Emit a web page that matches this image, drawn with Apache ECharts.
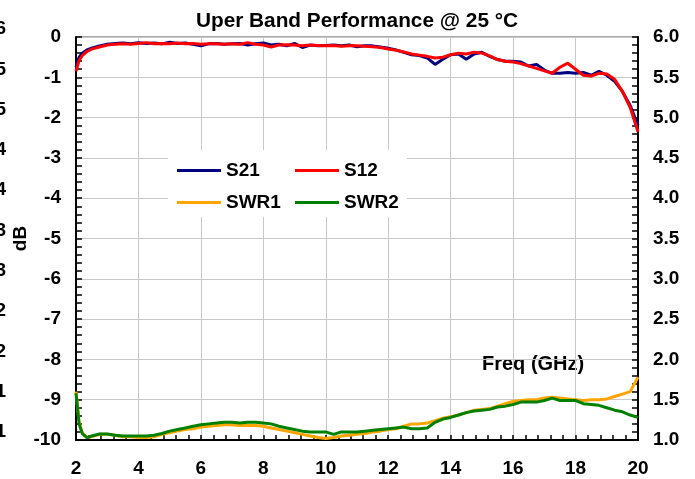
<!DOCTYPE html>
<html>
<head>
<meta charset="utf-8">
<script src="https://cdn.jsdelivr.net/npm/echarts@6/dist/echarts.min.js"></script>
<style>
html,body{margin:0;padding:0;background:#fff;}
#chart{width:695px;height:479px;}
</style>
</head>
<body>
<div id="chart"></div>
<script>
const freq = [2, 2.1, 2.2, 2.35, 2.5, 2.75, 3, 3.25, 3.5, 3.75, 4, 4.25, 4.5, 4.75, 5, 5.25, 5.5, 5.75, 6, 6.25, 6.5, 6.75, 7, 7.25, 7.5, 7.75, 8, 8.25, 8.5, 8.75, 9, 9.25, 9.5, 9.75, 10, 10.25, 10.5, 10.75, 11, 11.25, 11.5, 11.75, 12, 12.25, 12.5, 12.75, 13, 13.25, 13.5, 13.75, 14, 14.25, 14.5, 14.75, 15, 15.25, 15.5, 15.75, 16, 16.25, 16.5, 16.75, 17, 17.25, 17.5, 17.75, 18, 18.25, 18.5, 18.75, 19, 19.25, 19.5, 19.75, 20];

const s21 = [-0.75, -0.5, -0.4, -0.32, -0.28, -0.22, -0.18, -0.16, -0.15, -0.17, -0.14, -0.16, -0.15, -0.17, -0.13, -0.16, -0.15, -0.18, -0.22, -0.17, -0.16, -0.18, -0.17, -0.16, -0.2, -0.17, -0.15, -0.2, -0.18, -0.22, -0.16, -0.26, -0.2, -0.22, -0.21, -0.2, -0.22, -0.2, -0.24, -0.22, -0.22, -0.25, -0.28, -0.32, -0.38, -0.44, -0.46, -0.52, -0.68, -0.55, -0.44, -0.42, -0.55, -0.42, -0.38, -0.48, -0.56, -0.6, -0.6, -0.62, -0.72, -0.68, -0.82, -0.9, -0.9, -0.88, -0.9, -0.88, -0.95, -0.85, -0.95, -1.1, -1.35, -1.7, -2.2];

const s12 = [-0.85, -0.58, -0.46, -0.36, -0.3, -0.25, -0.2, -0.18, -0.17, -0.18, -0.16, -0.14, -0.17, -0.16, -0.17, -0.15, -0.17, -0.16, -0.18, -0.17, -0.17, -0.18, -0.17, -0.18, -0.14, -0.18, -0.2, -0.25, -0.2, -0.19, -0.2, -0.22, -0.2, -0.21, -0.22, -0.21, -0.23, -0.22, -0.22, -0.23, -0.24, -0.26, -0.3, -0.33, -0.37, -0.42, -0.45, -0.48, -0.52, -0.5, -0.44, -0.4, -0.42, -0.38, -0.4, -0.47, -0.56, -0.6, -0.62, -0.66, -0.72, -0.78, -0.84, -0.9, -0.75, -0.65, -0.8, -0.95, -0.97, -0.9, -0.92, -1.05, -1.35, -1.75, -2.35];

const swr1 = [1.6, 1.22, 1.09, 1.03, 1.04, 1.07, 1.07, 1.06, 1.04, 1.04, 1.03, 1.03, 1.04, 1.07, 1.09, 1.11, 1.13, 1.14, 1.16, 1.17, 1.18, 1.19, 1.19, 1.18, 1.18, 1.18, 1.17, 1.15, 1.13, 1.11, 1.09, 1.07, 1.05, 1.03, 1.02, 1.03, 1.05, 1.06, 1.07, 1.08, 1.1, 1.11, 1.13, 1.14, 1.17, 1.2, 1.2, 1.21, 1.24, 1.27, 1.29, 1.31, 1.34, 1.37, 1.38, 1.39, 1.42, 1.45, 1.48, 1.49, 1.5, 1.5, 1.52, 1.53, 1.52, 1.51, 1.5, 1.49, 1.5, 1.5, 1.51, 1.54, 1.57, 1.6, 1.78];

const swr2 = [1.58, 1.2, 1.08, 1.03, 1.05, 1.075, 1.075, 1.06, 1.05, 1.05, 1.05, 1.05, 1.06, 1.08, 1.11, 1.13, 1.15, 1.17, 1.19, 1.2, 1.21, 1.22, 1.22, 1.21, 1.22, 1.22, 1.21, 1.2, 1.17, 1.15, 1.13, 1.11, 1.1, 1.1, 1.1, 1.07, 1.1, 1.1, 1.1, 1.11, 1.12, 1.13, 1.14, 1.15, 1.16, 1.14, 1.14, 1.15, 1.22, 1.26, 1.28, 1.31, 1.34, 1.36, 1.37, 1.38, 1.41, 1.42, 1.44, 1.47, 1.47, 1.47, 1.49, 1.52, 1.49, 1.49, 1.49, 1.45, 1.44, 1.43, 1.4, 1.37, 1.35, 1.31, 1.28];

const titleText = 'Uper Band Performance @ 25 °C';
const xName = 'Freq (GHz)';
const yLeftName = 'dB';

const FONT = 'Liberation Sans, Arial, sans-serif';
const pair = (ys) => freq.map((f, i) => [f, ys[i]]);

const chart = echarts.init(document.getElementById('chart'), null, {renderer: 'canvas'});
const tickLabel = {fontFamily: FONT, fontWeight: 'bold', fontSize: 19, color: '#000'};

chart.setOption({
  animation: false,
  backgroundColor: '#fff',
  title: {
    text: titleText, left: 352, top: 6, textAlign: 'center',
    textStyle: {fontFamily: FONT, fontWeight: 'bold', fontSize: 20.8, color: '#000'}
  },
  grid: [
    {left: 76, right: 57, top: 37, bottom: 39, show: true, borderColor: '#555', borderWidth: 1, containLabel: false, outerBoundsMode: 'none'},
    {left: 76, right: 57, top: 29, bottom: 47, show: false, containLabel: false, outerBoundsMode: 'none'}
  ],
  legend: {
    data: ['S21', 'S12', 'SWR1', 'SWR2'], left: 168, top: 150, width: 230,
    orient: 'horizontal', icon: 'rect', itemWidth: 44, itemHeight: 3, itemGap: 11,
    padding: [10, 5, 4, 9], backgroundColor: '#fff',
    textStyle: {fontFamily: FONT, fontWeight: 'bold', fontSize: 19, color: '#000', width: 58, lineHeight: 21}
  },
  xAxis: [
    {
      type: 'value', gridIndex: 0, min: 2, max: 20, interval: 2,
      axisLine: {show: true, onZero: false, lineStyle: {color: '#000', width: 2}},
      axisTick: {show: true, inside: true, length: 5, lineStyle: {color: '#000', width: 1.5}},
      minorTick: {show: true, splitNumber: 5, length: 5, lineStyle: {color: '#000', width: 1.5}},
      splitLine: {show: true, lineStyle: {color: '#c8c8c8', width: 1}},
      axisLabel: Object.assign({margin: 19}, tickLabel)
    },
    {
      type: 'value', gridIndex: 1, min: 2, max: 20, show: false
    }
  ],
  yAxis: [
    {
      type: 'value', gridIndex: 0, position: 'left', min: -10, max: 0, interval: 1,
      name: yLeftName, nameLocation: 'middle', nameGap: 46, nameRotate: 90, nameMoveOverlap: false,
      nameTextStyle: {fontFamily: FONT, fontWeight: 'bold', fontSize: 19, color: '#000'},
      axisLine: {show: true, lineStyle: {color: '#000', width: 2}},
      axisTick: {show: true, inside: true, length: 6, lineStyle: {color: '#000', width: 1.5}},
      minorTick: {show: true, splitNumber: 5, length: 6, lineStyle: {color: '#000', width: 1.5}},
      splitLine: {show: true, lineStyle: {color: '#c8c8c8', width: 1}},
      axisLabel: Object.assign({margin: 15}, tickLabel)
    },
    {
      type: 'value', gridIndex: 0, position: 'right', min: 1, max: 6, interval: 0.5,
      axisLine: {show: true, lineStyle: {color: '#000', width: 2}},
      axisTick: {show: true, inside: true, length: 6, lineStyle: {color: '#000', width: 1.5}},
      minorTick: {show: true, splitNumber: 5, length: 6, lineStyle: {color: '#000', width: 1.5}},
      splitLine: {show: false},
      axisLabel: Object.assign({margin: 15, formatter: v => v.toFixed(1)}, tickLabel)
    },
    {
      type: 'value', gridIndex: 1, position: 'left', min: 1, max: 6, interval: 0.5, offset: 70,
      axisLine: {show: false}, axisTick: {show: false}, splitLine: {show: false},
      axisLabel: Object.assign({margin: 0, formatter: v => String(Math.floor(v))}, tickLabel)
    }
  ],
  graphic: [
    {
      type: 'text', left: 482, top: 354,
      style: {text: xName, fontFamily: FONT, fontWeight: 'bold', fontSize: 20, fill: '#000'}
    }
  ],
  series: [
    {name: 'S21', type: 'line', xAxisIndex: 0, yAxisIndex: 0, data: pair(s21), showSymbol: false, symbol: 'none',
     lineStyle: {color: '#000080', width: 3}, itemStyle: {color: '#000080'}},
    {name: 'S12', type: 'line', xAxisIndex: 0, yAxisIndex: 0, data: pair(s12), showSymbol: false, symbol: 'none',
     lineStyle: {color: '#ff0000', width: 3}, itemStyle: {color: '#ff0000'}},
    {name: 'SWR1', type: 'line', xAxisIndex: 0, yAxisIndex: 1, data: pair(swr1), showSymbol: false, symbol: 'none',
     lineStyle: {color: '#ffa500', width: 3}, itemStyle: {color: '#ffa500'}},
    {name: 'SWR2', type: 'line', xAxisIndex: 0, yAxisIndex: 1, data: pair(swr2), showSymbol: false, symbol: 'none',
     lineStyle: {color: '#008000', width: 3}, itemStyle: {color: '#008000'}}
  ]
});
</script>
</body>
</html>
